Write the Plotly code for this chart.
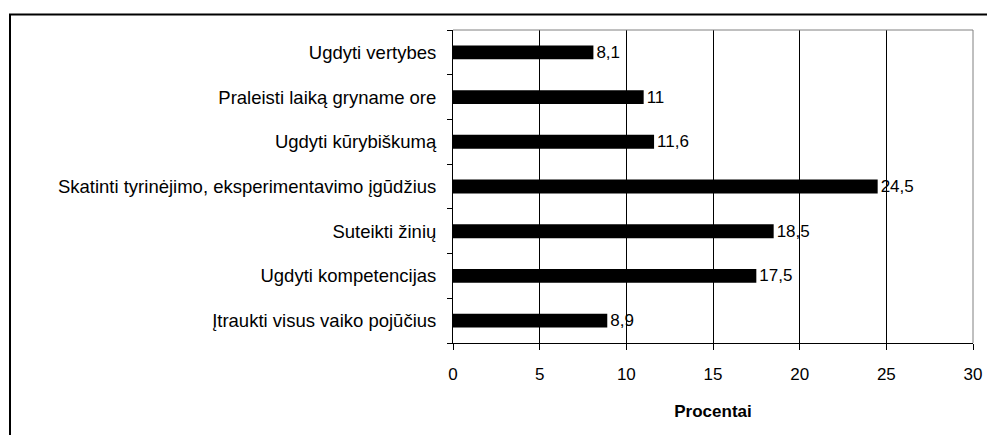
import plotly.graph_objects as go

categories = [
    "Ugdyti vertybes",
    "Praleisti laiką gryname ore",
    "Ugdyti kūrybiškumą",
    "Skatinti tyrinėjimo, eksperimentavimo įgūdžius",
    "Suteikti žinių",
    "Ugdyti kompetencijas",
    "Įtraukti visus vaiko pojūčius",
]
values = [8.1, 11, 11.6, 24.5, 18.5, 17.5, 8.9]
x_ticks = [0, 5, 10, 15, 20, 25, 30]
x_title = "Procentai"

labels = [("%g" % v).replace(".", ",") for v in values]

W, H = 987, 435
L, R, T, B = 453, 14, 30, 92
pw, ph = W - L - R, H - T - B

FAM = "Liberation Sans, Arial"

fig = go.Figure(go.Bar(
    y=categories, x=values, orientation="h",
    marker=dict(color="black", line=dict(color="black", width=0)),
    text=labels, textposition="outside", cliponaxis=False,
    constraintext="none",
    textfont=dict(family=FAM, size=17, color="black"),
))

fig.update_layout(
    width=W, height=H,
    margin=dict(l=L, r=R, t=T, b=B, pad=0, autoexpand=False),
    paper_bgcolor="white", plot_bgcolor="white",
    font=dict(family=FAM, size=17, color="black"),
    showlegend=False, bargap=0.69,
    xaxis=dict(
        range=[0, 30], tickvals=x_ticks, ticks="outside", ticklen=6,
        tickcolor="black", showline=True, linecolor="black", linewidth=1,
        showgrid=True, gridcolor="black", gridwidth=1, zeroline=False,
        ticklabelstandoff=10, tickfont=dict(family=FAM, size=17),
        title=dict(text="<b>" + x_title + "</b>",
                   font=dict(family=FAM, size=17), standoff=21),
        fixedrange=True,
    ),
    yaxis=dict(
        type="category", categoryorder="array", categoryarray=categories[::-1],
        tickson="boundaries", ticks="outside", ticklen=5, tickcolor="black",
        showline=True, linecolor="black", linewidth=1, showgrid=False,
        ticklabelstandoff=12, tickfont=dict(family=FAM, size=18.5),
        fixedrange=True,
    ),
    shapes=[
        dict(type="line", xref="paper", yref="paper", x0=0, x1=1, y0=1, y1=1,
             line=dict(color="#808080", width=1), layer="above"),
        dict(type="line", xref="paper", yref="paper", x0=1, x1=1, y0=0, y1=1,
             line=dict(color="#808080", width=1), layer="above"),
        dict(type="rect", xref="paper", yref="paper",
             x0=(10 - L) / pw, x1=(W + 20 - L) / pw,
             y0=(T + ph - (H + 20)) / ph, y1=(T + ph - 14.5) / ph,
             line=dict(color="black", width=2), layer="above"),
    ],
)

fig.write_html(
    "out.html",
    config={"displayModeBar": False},
    post_script="document.body.style.margin='0';document.body.style.overflow='hidden';",
)
